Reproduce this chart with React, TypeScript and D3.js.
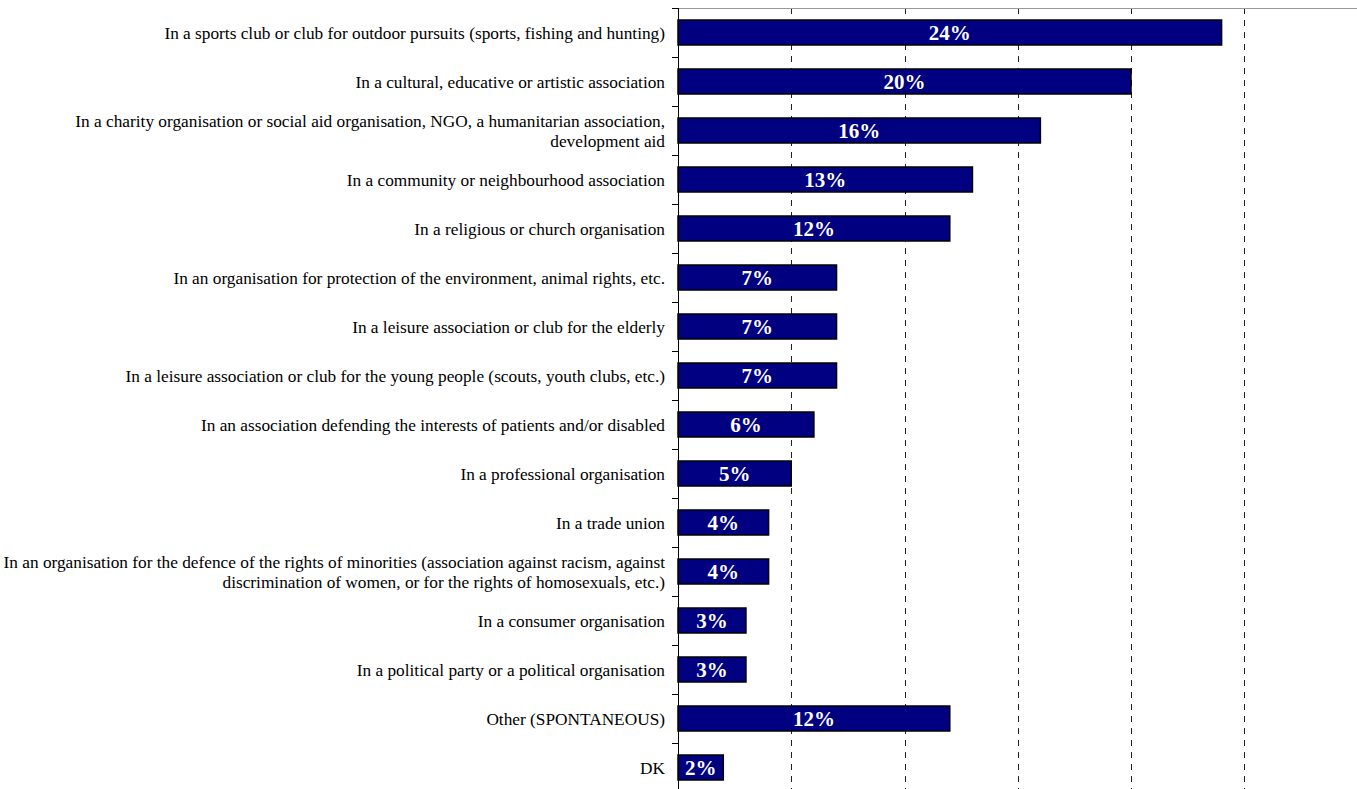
import React, { useEffect, useRef } from "react";
import * as d3 from "d3";

const categories: string[] = [
  "In a sports club or club for outdoor pursuits (sports, fishing and hunting)",
  "In a cultural, educative or artistic association",
  "In a charity organisation or social aid organisation, NGO, a humanitarian association,\ndevelopment aid",
  "In a community or neighbourhood association",
  "In a religious or church organisation",
  "In an organisation for protection of the environment, animal rights, etc.",
  "In a leisure association or club for the elderly",
  "In a leisure association or club for the young people (scouts, youth clubs, etc.)",
  "In an association defending the interests of patients and/or disabled",
  "In a professional organisation",
  "In a trade union",
  "In an organisation for the defence of the rights of minorities (association against racism, against\ndiscrimination of women, or for the rights of homosexuals, etc.)",
  "In a consumer organisation",
  "In a political party or a political organisation",
  "Other (SPONTANEOUS)",
  "DK",
];

const values: number[] = [24, 20, 16, 13, 12, 7, 7, 7, 6, 5, 4, 4, 3, 3, 12, 2];

const gridTicks: number[] = [5, 10, 15, 20, 25];

const W = 1357;
const H = 789;
const FONT = "'Liberation Serif', 'Times New Roman', serif";

export default function App() {
  const ref = useRef<SVGSVGElement>(null);

  useEffect(() => {
    const svg = d3.select(ref.current);
    svg.selectAll("*").remove();

    const left = 678;
    const top = 8;
    const band = 49;

    const x = d3.scaleLinear().domain([0, 30]).range([left, left + 30 * 22.65]);
    const y = d3
      .scaleBand<number>()
      .domain(d3.range(categories.length))
      .range([top, top + band * categories.length])
      .paddingInner(0.49)
      .paddingOuter(0.245);

    // gridlines
    svg
      .append("g")
      .selectAll("line")
      .data(gridTicks)
      .join("line")
      .attr("x1", (d) => Math.round(x(d)) + 0.5)
      .attr("x2", (d) => Math.round(x(d)) + 0.5)
      .attr("y1", top)
      .attr("y2", H)
      .attr("stroke", "#222")
      .attr("stroke-width", 1)
      .attr("stroke-dasharray", "6,6");

    // top border
    svg
      .append("line")
      .attr("x1", left)
      .attr("x2", W)
      .attr("y1", top + 0.5)
      .attr("y2", top + 0.5)
      .attr("stroke", "#999")
      .attr("stroke-width", 1);

    // bars
    svg
      .append("g")
      .selectAll("rect")
      .data(values)
      .join("rect")
      .attr("x", x(0))
      .attr("y", (_, i) => y(i)!)
      .attr("width", (d) => x(d) - x(0))
      .attr("height", y.bandwidth())
      .attr("fill", "#000080")
      .attr("stroke", "#000")
      .attr("stroke-width", 1.5);

    // value labels
    svg
      .append("g")
      .selectAll("text")
      .data(values)
      .join("text")
      .attr("x", (d) => (x(d) + x(0)) / 2)
      .attr("y", (_, i) => y(i)! + y.bandwidth() / 2 + 7.5)
      .attr("text-anchor", "middle")
      .attr("fill", "#fff")
      .attr("font-family", FONT)
      .attr("font-weight", "bold")
      .attr("font-size", 21)
      .text((d) => `${d}%`);

    // axis line
    svg
      .append("line")
      .attr("x1", left + 0.5)
      .attr("x2", left + 0.5)
      .attr("y1", top)
      .attr("y2", H)
      .attr("stroke", "#000")
      .attr("stroke-width", 1);

    // tick marks at band boundaries
    svg
      .append("g")
      .selectAll("line")
      .data(d3.range(categories.length + 1))
      .join("line")
      .attr("x1", left - 6)
      .attr("x2", left)
      .attr("y1", (d) => top + d * band + 0.5)
      .attr("y2", (d) => top + d * band + 0.5)
      .attr("stroke", "#000")
      .attr("stroke-width", 1);

    // category labels
    const lab = svg
      .append("g")
      .selectAll("text")
      .data(categories)
      .join("text")
      .attr("text-anchor", "end")
      .attr("font-family", FONT)
      .attr("font-size", 17.3)
      .attr("fill", "#000");

    lab.each(function (d, i) {
      const lines = d.split("\n");
      const cy = y(i)! + y.bandwidth() / 2;
      const lh = 20;
      const start = cy + 6 - ((lines.length - 1) * lh) / 2;
      const t = d3.select(this);
      lines.forEach((ln, k) => {
        t.append("tspan")
          .attr("x", 665)
          .attr("y", start + k * lh)
          .text(ln);
      });
    });
  }, []);

  return (
    <svg
      ref={ref}
      width={W}
      height={H}
      style={{ position: "fixed", left: 0, top: 0, background: "#fff" }}
    />
  );
}
